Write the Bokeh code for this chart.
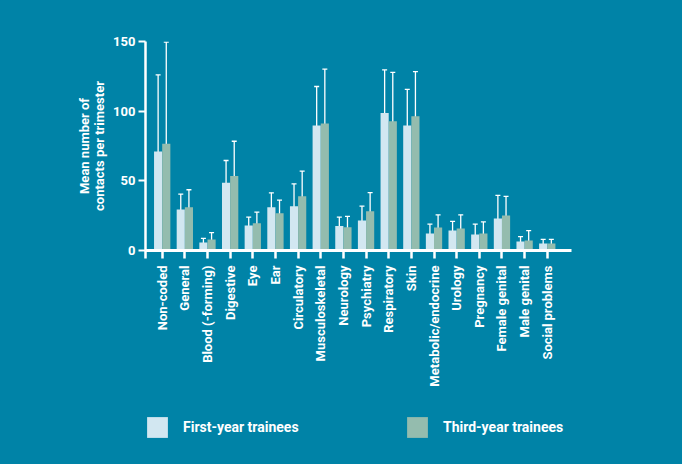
from bokeh.plotting import figure
from bokeh.layouts import column
from bokeh.models import (ColumnDataSource, Range1d, FixedTicker, Whisker, TeeHead,
                          Legend, LegendItem)
from bokeh.embed import file_html
from bokeh.resources import INLINE
import math

categories = ["Non-coded", "General", "Blood (-forming)", "Digestive", "Eye", "Ear",
              "Circulatory", "Musculoskeletal", "Neurology", "Psychiatry", "Respiratory",
              "Skin", "Metabolic/endocrine", "Urology", "Pregnancy", "Female genital",
              "Male genital", "Social problems"]
first_year = [71, 29.5, 5.7, 48.6, 18, 31, 31.8, 89.7, 17.5, 21.5, 98.6, 89.7, 12.2, 14.4, 11.5, 23, 6.5, 5]
first_err = [55, 11, 3, 16, 6, 10.4, 16, 28, 6.5, 10.3, 31, 26, 6.7, 6.5, 7.5, 16.5, 3.4, 3]
third_year = [76.6, 31, 7.9, 53.4, 19.6, 26.8, 39, 91.2, 16.7, 28.2, 92.8, 96.4, 16.5, 15.8, 12.2, 25.1, 7.2, 5]
third_err = [73, 12.6, 5, 25, 8, 9.4, 18, 39, 7.8, 13.3, 35, 32, 9, 9.8, 8.3, 13.7, 7, 3]
y_ticks = [0, 50, 100, 150]
series_names = ["First-year trainees", "Third-year trainees"]

BG = "#0083A7"
C1 = "#D2E7F1"
C2 = "#94BCAE"
FONT = "Roboto"

n = len(categories)
xs = list(range(n))
s1 = ColumnDataSource(dict(x=[i - 0.18 for i in xs], top=first_year,
                           upper=[v + e for v, e in zip(first_year, first_err)],
                           lower=[max(v - e, 0) for v, e in zip(first_year, first_err)]))
s2 = ColumnDataSource(dict(x=[i + 0.18 for i in xs], top=third_year,
                           upper=[v + e for v, e in zip(third_year, third_err)],
                           lower=[max(v - e, 0) for v, e in zip(third_year, third_err)]))

x_start = -0.737
p = figure(frame_width=426, frame_height=209,
           min_border_left=145, min_border_right=111, min_border_top=41, min_border_bottom=150,
           x_range=Range1d(x_start, n + 0.07), y_range=Range1d(0, 150),
           output_backend="svg", toolbar_location=None)
p.background_fill_color = BG
p.border_fill_color = BG
p.outline_line_color = None
p.grid.visible = False

p.vbar(x="x", top="top", width=0.36, source=s1, fill_color=C1, line_color=None)
p.vbar(x="x", top="top", width=0.36, source=s2, fill_color=C2, line_color=None)

for src in (s1, s2):
    w = Whisker(source=src, base="x", upper="upper", lower="lower",
                line_color="white", line_width=1.3,
                upper_head=TeeHead(size=5, line_color="white", line_width=1.3),
                lower_head=TeeHead(size=5, line_color="white", line_width=1.3))
    p.add_layout(w)

# x axis
p.xaxis.ticker = FixedTicker(ticks=[x_start] + xs)
overrides = {i: c for i, c in enumerate(categories)}
overrides[x_start] = ""
p.xaxis.major_label_overrides = overrides
p.xaxis.major_label_orientation = math.pi / 2
p.xaxis.axis_line_color = "white"
p.xaxis.axis_line_width = 3
p.xaxis.major_tick_line_color = "white"
p.xaxis.major_tick_line_width = 2.5
p.xaxis.major_tick_out = 8
p.xaxis.major_tick_in = 0
p.xaxis.minor_tick_line_color = None
p.xaxis.major_label_text_color = "white"
p.xaxis.major_label_text_font = FONT
p.xaxis.major_label_text_font_style = "bold"
p.xaxis.major_label_text_font_size = "13px"
p.xaxis.major_label_standoff = 7

# y axis
p.yaxis.ticker = FixedTicker(ticks=y_ticks)
p.yaxis.axis_line_color = "white"
p.yaxis.axis_line_width = 2.5
p.yaxis.major_tick_line_color = "white"
p.yaxis.major_tick_line_width = 2
p.yaxis.major_tick_out = 7
p.yaxis.major_tick_in = 0
p.yaxis.minor_tick_line_color = None
p.yaxis.major_label_text_color = "white"
p.yaxis.major_label_text_font = FONT
p.yaxis.major_label_text_font_style = "bold"
p.yaxis.major_label_text_font_size = "13px"
p.yaxis.major_label_standoff = 3
p.yaxis.axis_label = "Mean number of\ncontacts per trimester"
p.yaxis.axis_label_text_color = "white"
p.yaxis.axis_label_text_font = FONT
p.yaxis.axis_label_text_font_style = "bold"
p.yaxis.axis_label_text_font_size = "13px"
p.yaxis.axis_label_text_line_height = 1.0
p.yaxis.axis_label_standoff = 3

# legend figure (frame aligned with the main frame by the column layout)
p2 = figure(width=682, height=64, min_border=0,
            x_range=Range1d(0, 1), y_range=Range1d(1000, 1001),
            output_backend="svg", toolbar_location=None)
p2.background_fill_color = BG
p2.border_fill_color = BG
p2.outline_line_color = None
p2.grid.visible = False
p2.axis.visible = False
lr1 = p2.vbar(x="x", top="top", width=0.36, source=s1, fill_color=C1, line_color=None)
lr2 = p2.vbar(x="x", top="top", width=0.36, source=s2, fill_color=C2, line_color=None)

for r, name, xpos in ((lr1, series_names[0], -1), (lr2, series_names[1], 259)):
    lg = Legend(items=[LegendItem(label=name, renderers=[r])],
                location=(xpos, 24), orientation="horizontal",
                glyph_width=26, glyph_height=26, label_standoff=13,
                padding=0, margin=0, border_line_color=None,
                background_fill_alpha=0,
                label_text_color="white", label_text_font=FONT,
                label_text_font_style="bold", label_text_font_size="14px")
    p2.add_layout(lg, "center")

layout = column(p, p2, spacing=0)
html = file_html(layout, INLINE)
html = html.replace("</head>",
                    "<style>html, body { background-color: %s !important; }</style></head>" % BG, 1)
open("out.html", "w").write(html)
